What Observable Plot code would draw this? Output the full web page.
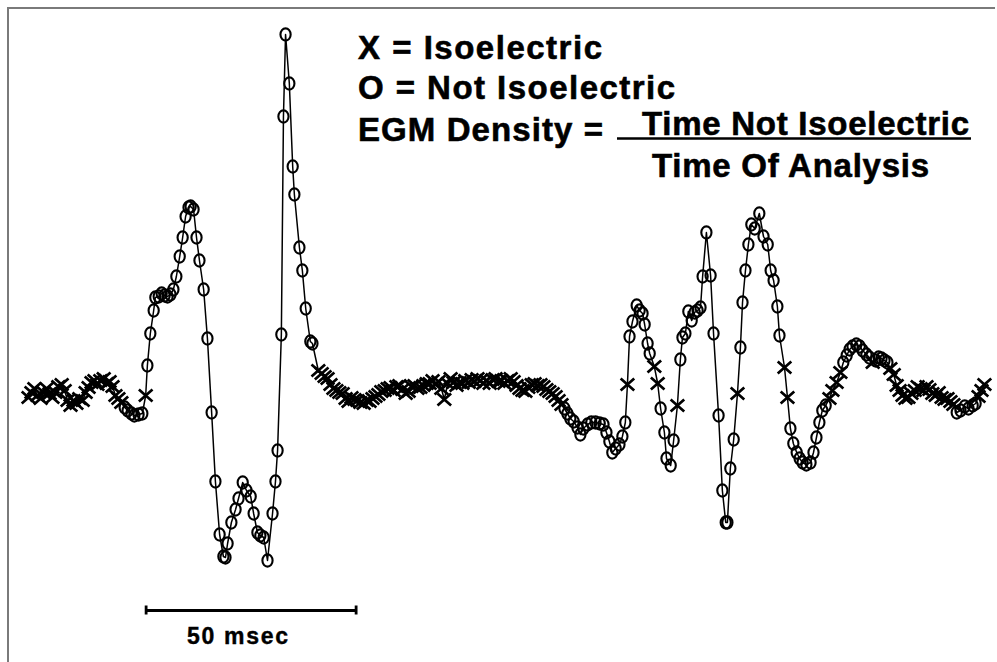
<!DOCTYPE html>
<html>
<head>
<meta charset="utf-8">
<script src="https://cdn.jsdelivr.net/npm/d3@7"></script>
<script src="https://cdn.jsdelivr.net/npm/@observablehq/plot@0.6"></script>
<style>
  html, body { margin: 0; padding: 0; background: #fff; }
  #wrap { position: relative; width: 997px; height: 662px; overflow: hidden; background: #fff; }
  #wrap svg { position: absolute; left: 0; top: 0; }
  .frame-top { position: absolute; left: 7px; top: 7px; width: 988px; height: 2px; background: #7a7a7a; }
  .frame-left { position: absolute; left: 7px; top: 7px; width: 2px; height: 660px; background: #7a7a7a; }
</style>
</head>
<body>
<div id="wrap"><div class="frame-top"></div><div class="frame-left"></div></div>
<script>
// ---- Data (time in ms, amplitude in mV) ----
const timeMs = [
  // isoelectric baseline before activation
  0.0,0.7,1.4,2.1,2.9,3.6,4.3,5.0,5.7,6.4,7.1,7.9,8.6,9.3,10.0,10.7,11.4,12.1,12.9,13.6,14.3,15.0,15.7,16.4,17.1,17.9,18.6,19.3,20.0,20.7,21.4,22.1,
  22.9,23.6,24.5,25.2,26.2,27.1,
  27.9,
  // first deflection complex
  28.3,29.0,29.8,30.2,31.0,31.7,32.4,33.1,33.8,34.5,
  35.2,36.0,36.7,37.4,38.1,38.6,39.3,40.0,40.7,41.7,
  42.6,43.6,44.5,45.5,46.4,46.9,47.4,48.3,49.3,50.0,
  51.0,51.9,52.9,53.6,54.5,55.2,56.0,56.9,58.1,58.8,
  59.3,60.2,60.7,61.2,62.1,62.9,63.3,64.5,65.2,66.0,
  67.1,67.6,
  // long isoelectric segment
  69.0,69.8,70.5,71.2,71.9,72.6,73.3,74.0,74.8,75.5,
  76.2,76.9,77.6,78.3,79.0,79.8,80.5,81.2,81.9,82.6,
  83.3,84.0,84.8,85.5,86.2,86.9,87.6,88.3,89.0,89.8,
  90.5,91.2,91.9,92.6,93.3,94.0,94.8,95.5,96.2,96.9,
  97.6,98.3,99.0,99.8,100.5,101.2,101.9,102.6,103.3,104.0,
  104.8,105.5,106.2,106.9,107.6,108.3,109.0,109.8,110.5,111.2,
  111.9,112.6,113.3,114.0,114.8,115.5,116.2,116.9,117.6,118.3,
  119.0,119.8,120.5,121.2,121.9,122.6,123.3,124.0,124.8,125.5,
  126.2,126.9,
  // second (fractionated) complex
  127.6,128.3,129.0,129.8,130.7,131.4,132.1,133.1,134.0,135.0,136.0,136.9,137.6,138.3,139.0,139.8,140.7,141.4,142.1,
  142.6,
  143.1,143.8,144.8,145.5,146.2,146.7,147.4,147.9,
  149.0,149.8,
  150.5,151.4,151.9,152.9,153.6,
  154.5,
  155.2,155.7,156.4,157.1,157.9,158.6,159.3,160.0,160.5,161.4,162.4,163.1,164.3,165.2,166.0,166.4,167.1,167.9,
  168.8,
  169.5,170.0,170.7,171.4,172.1,172.9,174.0,175.0,176.0,176.7,177.4,178.3,178.8,
  180.0,180.7,
  181.4,182.1,182.9,183.6,184.3,185.2,186.2,186.9,187.6,188.3,189.0,189.8,
  190.7,191.4,192.4,193.3,
  194.0,194.8,195.5,196.2,197.1,197.9,198.6,199.5,200.2,
  201.0,
  201.7,202.4,203.1,203.8,204.5,
  // return to baseline
  205.2,206.0,206.7,207.4,208.1,208.8,209.5,210.2,211.0,211.7,212.4,213.1,213.8,214.5,215.2,216.0,216.7,217.4,218.1,218.8,219.5,220.2,
  221.0,221.9,222.9,223.8,224.8,225.5,
  226.2,226.9,227.6
];

const amplitudeMv = [
  -0.02,0.03,0.07,0.00,-0.03,0.03,0.07,0.02,-0.02,0.03,0.09,0.11,0.05,-0.05,-0.10,-0.05,-0.08,-0.03,-0.05,0.03,0.08,0.13,0.15,0.11,0.15,0.17,0.12,0.14,0.09,0.00,-0.03,-0.07,
  -0.12,-0.15,-0.18,-0.20,-0.19,-0.18,
  0.00,
  0.30,0.62,0.85,0.98,0.99,1.02,1.00,0.99,1.01,1.06,
  1.19,1.39,1.58,1.79,1.88,1.89,1.86,1.58,1.35,1.06,
  0.57,-0.17,-0.86,-1.39,-1.61,-1.62,-1.48,-1.27,-1.14,-1.03,
  -0.87,-0.95,-1.01,-1.18,-1.37,-1.40,-1.42,-1.65,-1.18,-0.86,
  -0.55,0.61,2.79,3.61,3.12,2.29,2.01,1.48,1.25,0.87,
  0.54,0.52,
  0.25,0.22,0.19,0.17,0.11,0.07,0.05,0.03,0.02,-0.03,
  -0.06,-0.02,-0.04,-0.05,-0.07,-0.08,-0.05,-0.06,-0.03,-0.01,
  0.01,0.04,0.05,0.07,0.08,0.05,0.09,0.10,0.06,0.02,
  0.04,0.09,0.10,0.07,0.08,0.10,0.12,0.12,0.15,0.11,
  0.14,0.07,-0.04,0.12,0.17,0.13,0.10,0.13,0.12,0.15,
  0.13,0.16,0.14,0.17,0.15,0.12,0.15,0.12,0.16,0.17,
  0.14,0.15,0.12,0.15,0.17,0.14,0.10,0.07,0.05,0.04,
  0.08,0.11,0.12,0.10,0.11,0.09,0.06,0.04,0.02,-0.01,
  -0.05,-0.09,
  -0.13,-0.18,-0.23,-0.26,-0.32,-0.39,-0.33,-0.29,-0.27,-0.27,-0.28,-0.29,-0.37,-0.46,-0.57,-0.53,-0.49,-0.41,-0.27,
  0.11,
  0.59,0.74,0.90,0.85,0.82,0.71,0.52,0.42,
  0.29,0.12,
  -0.13,-0.37,-0.63,-0.70,-0.45,
  -0.10,
  0.36,0.58,0.62,0.84,0.75,0.83,0.85,0.88,1.19,1.63,1.20,0.62,-0.20,-0.95,-1.27,-1.27,-0.73,-0.44,
  0.02,
  0.48,0.93,1.25,1.51,1.71,1.67,1.82,1.59,1.51,1.25,1.15,0.89,0.60,
  0.28,-0.02,
  -0.33,-0.48,-0.57,-0.63,-0.67,-0.69,-0.67,-0.57,-0.42,-0.27,-0.15,-0.10,
  -0.03,0.05,0.13,0.23,
  0.33,0.40,0.46,0.49,0.51,0.49,0.45,0.41,0.38,
  0.33,
  0.35,0.38,0.37,0.35,0.33,
  0.27,0.21,0.10,0.05,0.00,-0.03,-0.02,0.02,0.05,0.09,0.07,0.05,0.09,0.06,0.02,0.00,0.03,-0.02,-0.04,-0.03,-0.06,-0.09,
  -0.17,-0.15,-0.11,-0.13,-0.10,-0.08,
  -0.01,0.05,0.11
];

// Sample classification, as runs: X = isoelectric, O = not isoelectric
const markerRuns = [
  ["X",32],["O",6],["X",1],["O",52],["X",82],["O",19],["X",1],["O",8],["X",2],["O",5],["X",1],
  ["O",18],["X",1],["O",13],["X",2],["O",12],["X",4],["O",9],["X",1],["O",5],["X",22],["O",6],["X",3]
];

// Scale bar (ms) and its label
const scaleBarMs = [28, 78];
const scaleBarLevelMv = -2.15;
const scaleBarLabel = "50 msec";

// Legend / formula texts
const legendLines = ["X = Isoelectric", "O = Not Isoelectric"];
const formulaLabel = "EGM Density =";
const formulaNumerator = "Time Not Isoelectric";
const formulaDenominator = "Time Of Analysis";

// ---- Build ----
const marker = markerRuns.flatMap(([m, n]) => Array(n).fill(m));
const rows = timeMs.map((t, i) => ({ t, v: amplitudeMv[i], m: marker[i] }));
if (timeMs.length !== amplitudeMv.length || marker.length !== timeMs.length) {
  console.warn("length mismatch", timeMs.length, amplitudeMv.length, marker.length);
}

const ovalSymbol = {
  draw(ctx) {
    const rx = 5.1, ry = 6.1, k = 0.5523;
    ctx.moveTo(rx, 0);
    ctx.bezierCurveTo(rx, ry * k, rx * k, ry, 0, ry);
    ctx.bezierCurveTo(-rx * k, ry, -rx, ry * k, -rx, 0);
    ctx.bezierCurveTo(-rx, -ry * k, -rx * k, -ry, 0, -ry);
    ctx.bezierCurveTo(rx * k, -ry, rx, -ry * k, rx, 0);
    ctx.closePath();
  }
};
const crossSymbol = {
  draw(ctx) {
    const w = 6.8, h = 6.0;
    ctx.moveTo(-w, -h); ctx.lineTo(w, h);
    ctx.moveTo(-w, h); ctx.lineTo(w, -h);
  }
};

const W = 997, H = 662;
const chart = Plot.plot({
  width: W,
  height: H,
  margin: 0,
  style: { background: "transparent", overflow: "visible" },
  x: { domain: [-6.67, 230.71], axis: null },
  y: { domain: [-2.67, 3.95], axis: null },
  marks: [
    Plot.line(rows, { x: "t", y: "v", stroke: "#000", strokeWidth: 1.5 }),
    Plot.dot(rows.filter(d => d.m === "O"), { x: "t", y: "v", symbol: ovalSymbol, fill: "none", stroke: "#000", strokeWidth: 2.1 }),
    Plot.dot(rows.filter(d => d.m === "X"), { x: "t", y: "v", symbol: crossSymbol, fill: "none", stroke: "#000", strokeWidth: 2.7 }),
    Plot.ruleY([scaleBarLevelMv], { x1: scaleBarMs[0], x2: scaleBarMs[1], stroke: "#000", strokeWidth: 2.8 }),
    Plot.ruleX(scaleBarMs, { y1: scaleBarLevelMv - 0.045, y2: scaleBarLevelMv + 0.045, stroke: "#000", strokeWidth: 2.8 })
  ]
});
const wrap = document.getElementById("wrap");
wrap.appendChild(chart);

// ---- Text annotations (overlay SVG) ----
const svg = d3.select(wrap).append("svg")
  .attr("width", W).attr("height", H)
  .style("font-family", "'Liberation Sans', Arial, Helvetica, sans-serif")
  .style("font-weight", "bold")
  .attr("fill", "#000");

function label(txt, x, y, size, len, sw) {
  svg.append("text")
    .attr("x", x).attr("y", y)
    .attr("font-size", size)
    .attr("textLength", len)
    .attr("lengthAdjust", "spacing")
    .attr("stroke", "#000")
    .attr("stroke-width", sw)
    .text(txt);
}
label(legendLines[0], 358, 59, 33, 244, 0.6);
label(legendLines[1], 358, 99, 33, 317, 0.6);
label(formulaLabel, 358, 141, 33, 245, 0.6);
label(formulaNumerator, 642, 135, 33, 327, 0.6);
label(formulaDenominator, 652, 177, 33, 277, 0.6);
svg.append("line").attr("x1", 617).attr("x2", 971).attr("y1", 138.5).attr("y2", 138.5)
  .attr("stroke", "#000").attr("stroke-width", 2.6);
label(scaleBarLabel, 187, 644, 23, 101, 0.4);
</script>
</body>
</html>
